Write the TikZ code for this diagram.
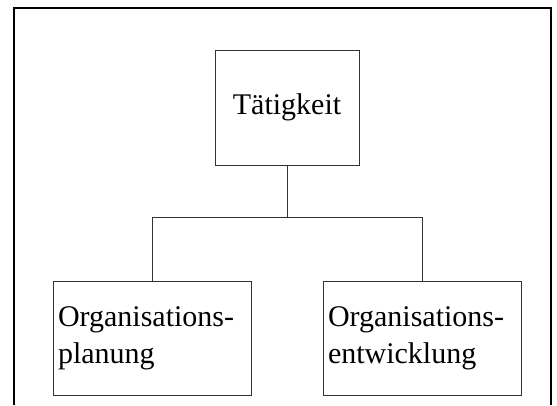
\documentclass[tikz,border=0pt]{standalone}
\usepackage{fontspec}
\setmainfont{Liberation Serif}
\usepackage{tikz}
\usetikzlibrary{calc}
\usetikzlibrary{positioning}

\tikzset{
  box/.style={rectangle, draw=black!80, line width=0.8pt, inner sep=5pt,
    font=\fontsize{30}{37}\selectfont},
  leafbox/.style={box, minimum height=114pt, text width=188pt, align=left},
  link/.style={draw=black!80, line width=0.8pt}
}

\begin{document}
\begin{tikzpicture}[x=1pt, y=-1pt]
 \useasboundingbox (0,0) rectangle (557,405);
 \draw [line width=2pt] (13.5,405) -- (13.5,8) -- (551,8) -- (551,405);
 \node [box, minimum width=144pt, minimum height=115pt] (T) at (287, 107.5) {Tätigkeit};
 \node [leafbox] (P) at (152, 338) {Organisations-\\planung};
 \node [leafbox] (E) at (422, 338) {Organisations-\\entwicklung};
 \coordinate (J) at (287, 217);
 \draw [link] (T) to (J);
 \draw [link] (J) -| (P);
 \draw [link] (J) -| (E);
\end{tikzpicture}
\end{document}
